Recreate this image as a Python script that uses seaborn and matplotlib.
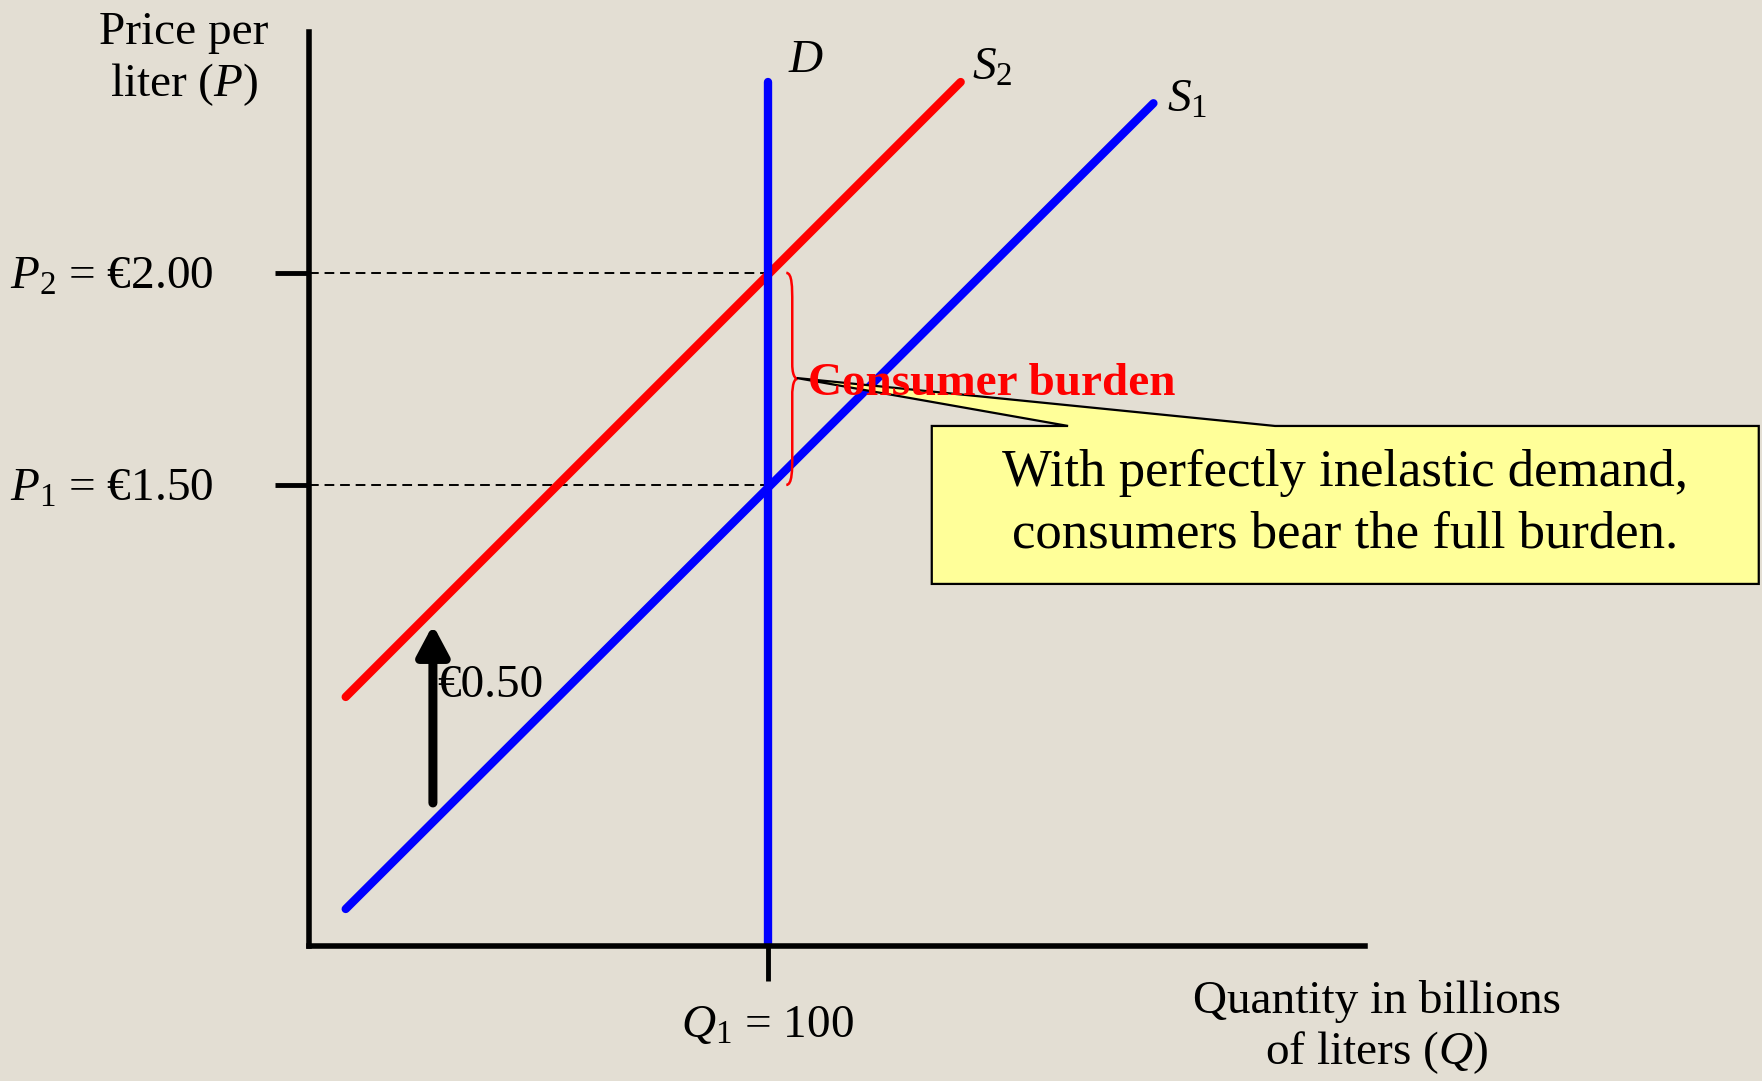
import numpy as np
import matplotlib
matplotlib.use("Agg")
import matplotlib.pyplot as plt
import seaborn as sns
import pandas as pd
from matplotlib.path import Path
from matplotlib.patches import PathPatch, Polygon

# data (price in euro, quantity in billions of liters)
s1_q = [8, 184]
s1_p = [0.50, 2.40]
s2_q = [8, 142]
s2_p = [1.00, 2.45]
d_q = [100, 100]
d_p = [0.41, 2.45]
q1 = 100
p1 = 1.50
p2 = 2.00
tax_arrow = [0.75, 1.17]   # arrow from/to price at q=27
price_ticks = [p1, p2]
price_labels = [r"$P_1$ = €1.50", r"$P_2$ = €2.00"]
qty_ticks = [q1]
qty_labels = [r"$Q_1$ = 100"]

BG = "#e3ded3"
RED = "#ff0000"
BLUE = "#0000ff"

sns.set_style("white")
plt.rcParams["font.family"] = ["Liberation Serif", "DejaVu Serif"]
plt.rcParams["mathtext.fontset"] = "custom"
plt.rcParams["mathtext.rm"] = "Liberation Serif"
plt.rcParams["mathtext.it"] = "Liberation Serif:italic"
plt.rcParams["mathtext.bf"] = "Liberation Serif:bold"
plt.rcParams["text.color"] = "black"
plt.rcParams["xtick.color"] = "black"
plt.rcParams["ytick.color"] = "black"

fig = plt.figure(figsize=(17.62, 10.81), dpi=100, facecolor=BG)
ax = fig.add_axes([309 / 1762, 1 - 946 / 1081, 1056 / 1762, 914 / 1081])
ax.set_facecolor(BG)
ax.set_xlim(0, 230.1)
ax.set_ylim(0.4127, 2.568)

lines = pd.concat([
    pd.DataFrame({"q": s1_q, "p": s1_p, "curve": "S1"}),
    pd.DataFrame({"q": s2_q, "p": s2_p, "curve": "S2"}),
    pd.DataFrame({"q": d_q, "p": d_p, "curve": "D"}),
])
sns.lineplot(data=lines, x="q", y="p", hue="curve", units="curve",
             estimator=None, sort=False, linewidth=6,
             palette={"S1": BLUE, "S2": RED, "D": BLUE}, legend=False, ax=ax)

# dashed guides to the price axis
for p in [p1, p2]:
    ax.plot([0, q1], [p, p], color="black", lw=1.4, ls=(0, (5, 3)), zorder=1)

# curve labels
ax.text(104.4, 2.50, r"$D$", fontsize=34, ha="left", va="center")
ax.text(144.5, 2.455, r"$S_2$", fontsize=34, ha="left", va="baseline")
ax.text(187.0, 2.38, r"$S_1$", fontsize=34, ha="left", va="baseline")

# tax arrow
ax.annotate("", xy=(27, tax_arrow[1]), xytext=(27, tax_arrow[0]),
            arrowprops=dict(arrowstyle="-|>,head_length=0.6,head_width=0.32",
                            mutation_scale=30, lw=6.5, color="black",
                            shrinkA=0, shrinkB=0))
ax.text(28, 1.0, "€0.50", fontsize=34, ha="left", va="baseline")

# brace for the consumer burden
x0, x1, x2 = 104.0, 105.3, 106.4
yt, yb = p2, p1
ym = (yt + yb) / 2
r = 0.035
verts = [(x0, yt), (x1, yt), (x1, yt - r), (x1, yt - 2 * r),
         (x1, ym + r),
         (x1, ym), (x2, ym), (x2, ym),
         (x1, ym), (x1, ym - r), (x1, ym - r),
         (x1, yb + 2 * r),
         (x1, yb + r), (x1, yb), (x0, yb)]
codes = [Path.MOVETO, Path.CURVE4, Path.CURVE4, Path.CURVE4,
         Path.LINETO,
         Path.CURVE4, Path.CURVE4, Path.CURVE4,
         Path.CURVE4, Path.CURVE4, Path.CURVE4,
         Path.LINETO,
         Path.CURVE4, Path.CURVE4, Path.CURVE4]
ax.add_patch(PathPatch(Path(verts, codes), fc="none", ec=RED, lw=1.8, zorder=4))

# callout box with pointer
box_l, box_r, box_t, box_b = 135.7, 315.9, 1.639, 1.2665
callout = Polygon([(box_l, box_t), (165.4, box_t), (106.3, 1.752), (210.5, box_t),
                   (box_r, box_t), (box_r, box_b), (box_l, box_b)],
                  closed=True, fc="#ffff99", ec="black", lw=1.6,
                  clip_on=False, zorder=5)
ax.add_patch(callout)
ax.text(225.7, 1.455, "With perfectly inelastic demand,\nconsumers bear the full burden.",
        fontsize=38, ha="center", va="center", linespacing=1.36, zorder=6)
ax.text(108.7, 1.712, "Consumer burden", fontsize=34, fontweight="bold",
        color=RED, ha="left", va="baseline", zorder=7)

# axes styling
for side in ["top", "right"]:
    ax.spines[side].set_visible(False)
for side in ["left", "bottom"]:
    ax.spines[side].set_linewidth(4)
    ax.spines[side].set_color("black")
ax.set_yticks(price_ticks, price_labels, fontsize=34)
ax.set_xticks(qty_ticks, qty_labels, fontsize=34)
ax.tick_params(axis="y", left=True, direction="out", length=24.5, width=3.5, pad=44,
               color="black", labelcolor="black")
ax.tick_params(axis="x", bottom=True, direction="out", length=25, width=3.5, pad=17,
               color="black", labelcolor="black")
ax.set_xlabel("")
ax.set_ylabel("")

fig.text(184 / 1762, 1 - 60 / 1081, "Price per\nliter ($P$)", fontsize=34,
         ha="center", va="center", multialignment="center")
fig.text(1377 / 1762, 1 - 1028 / 1081, "Quantity in billions\nof liters ($Q$)", fontsize=34,
         ha="center", va="center", multialignment="center")

fig.savefig("out.png", dpi=100, facecolor=BG)
